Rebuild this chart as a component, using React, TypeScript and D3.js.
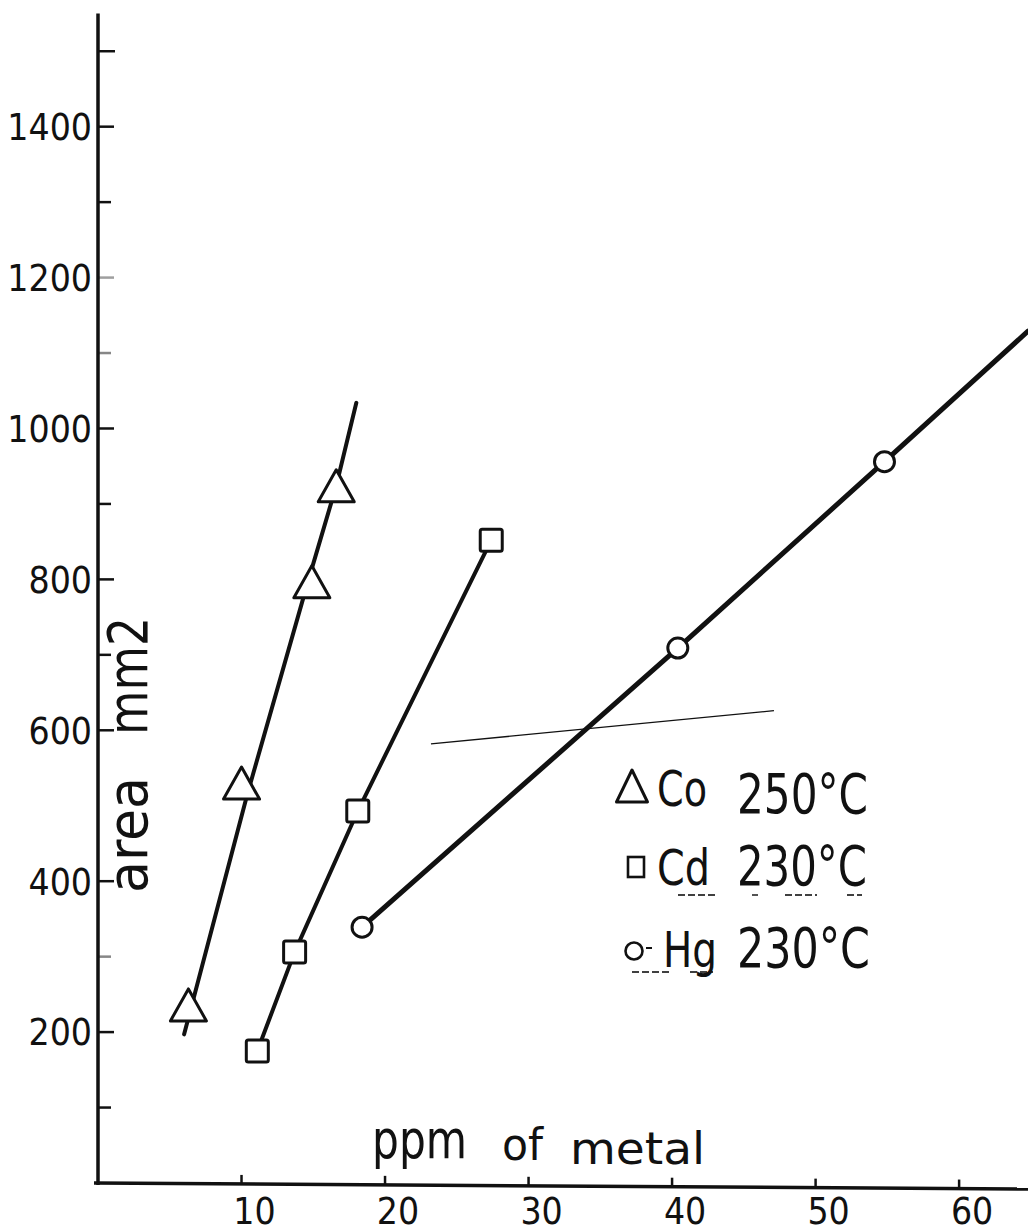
import React from "react";
import * as d3 from "d3";

// ---- data ----
const coX = [6.3, 10.0, 14.9, 16.6];
const coY = [236, 530, 797, 924];
const coLineX = [6.0, 10.4, 14.6, 16.6, 18.0];
const coLineY = [197, 515, 795, 924, 1034];

const cdX = [11.1, 13.7, 18.1, 27.4];
const cdY = [175, 306, 493, 852];

const hgX = [18.4, 40.4, 54.8];
const hgY = [339, 709, 956];
const hgLineX = [18.4, 40.4, 54.8, 64.8];
const hgLineY = [339, 709, 956, 1129];

const strayX = [23.2, 47.1];
const strayY = [582, 626];

const xTicks = [10, 20, 30, 40, 50, 60];
const yLabelTicks = [200, 400, 600, 800, 1000, 1200, 1400];
const yMinorTicks = [100, 300, 700, 900, 1100, 1300, 1500];

const legendNames = ["Co", "Cd", "Hg"];
const legendTemps = ["250°C", "230°C", "230°C"];
const legendSymbols = ["triangle", "square", "circle"];

const xAxisTitle = ["ppm", "of", "metal"];
const yAxisTitle = ["area", "mm2"];

const FONT = "'DejaVu Sans Condensed', 'DejaVu Sans', sans-serif";
const INK = "#111";

export default function App() {
  const W = 1028;
  const H = 1232;
  const x = d3.scaleLinear().domain([0, 64.8]).range([98, 1028]);
  const y = d3.scaleLinear().domain([0, 1550]).range([1183, 13.5]);

  const line = d3
    .line<[number, number]>()
    .x((d) => x(d[0]))
    .y((d) => y(d[1]));

  const coLine = line(coLineX.map((v, i) => [v, coLineY[i]]) as [number, number][]);
  const cdLine = line(cdX.map((v, i) => [v, cdY[i]]) as [number, number][]);
  const hgLine = line(hgLineX.map((v, i) => [v, hgLineY[i]]) as [number, number][]);
  const stray = line(strayX.map((v, i) => [v, strayY[i]]) as [number, number][]);

  const tri = (cx: number, cy: number, w: number, h: number) =>
    `M${cx},${cy - h / 2}L${cx + w / 2},${cy + h / 2}L${cx - w / 2},${cy + h / 2}Z`;

  const x0 = x(0);
  const y0 = y(0);

  // legend layout
  const legX = 632;
  const legRows = [806, 885, 967];
  const legTempLens = [131, 130, 133];
  const legNameLens = [50, 53, 54];
  const legNameX = [657, 657, 663];

  return (
    <svg
      width={W}
      height={H}
      viewBox={`0 0 ${W} ${H}`}
      style={{ position: "absolute", left: 0, top: 0, background: "#fff", display: "block" }}
    >
      <rect x={0} y={0} width={W} height={H} fill="#fff" />

      {/* axes */}
      <line x1={x0} y1={y0 + 2} x2={x0} y2={y(1550)} stroke={INK} strokeWidth={3.5} />
      <line x1={x0 - 4} y1={y0} x2={W} y2={y0 + 6} stroke={INK} strokeWidth={3.5} />

      {/* y ticks */}
      {yLabelTicks.map((t) => (
        <g key={"yl" + t}>
          <line x1={x0} x2={x0 + 16} y1={y(t)} y2={y(t)} stroke={INK} strokeWidth={2.5} opacity={t === 1200 ? 0.4 : 1} />
          <text
            x={92}
            y={y(t)}
            dy="0.36em"
            textAnchor="end"
            fontFamily={FONT}
            fontSize={37}
            fill={INK}
          >
            {t}
          </text>
        </g>
      ))}
      {yMinorTicks.map((t) => (
        <line
          key={"ym" + t}
          x1={x0}
          x2={x0 + (t === 1500 ? 17 : 13)}
          y1={y(t)}
          y2={y(t)}
          stroke={INK}
          strokeWidth={2.5}
          opacity={t === 1100 || t === 300 ? 0.5 : 1}
        />
      ))}

      {/* x ticks */}
      {xTicks.map((t) => {
        const ty = y0 + (x(t) - x0) * (6 / (W - x0));
        return (
          <g key={"xt" + t}>
            <line x1={x(t)} x2={x(t)} y1={ty} y2={ty - 9} stroke={INK} strokeWidth={2.5} />
            <text
              x={x(t) + 13}
              y={1224}
              textAnchor="middle"
              fontFamily={FONT}
              fontSize={37}
              fill={INK}
            >
              {t}
            </text>
          </g>
        );
      })}

      {/* axis titles */}
      <text x={372} y={1158} fontFamily={FONT} fontSize={54} fill={INK} textLength={95} lengthAdjust="spacingAndGlyphs">
        {xAxisTitle[0]}
      </text>
      <text x={502} y={1160} fontFamily={FONT} fontSize={44} fill={INK} textLength={41} lengthAdjust="spacingAndGlyphs">
        {xAxisTitle[1]}
      </text>
      <text x={570} y={1164} fontFamily={FONT} fontSize={44} fill={INK} textLength={135} lengthAdjust="spacingAndGlyphs">
        {xAxisTitle[2]}
      </text>

      <text
        transform="translate(147,893) rotate(-90)"
        fontFamily={FONT}
        fontSize={56}
        fill={INK}
        textLength={116}
        lengthAdjust="spacingAndGlyphs"
      >
        {yAxisTitle[0]}
      </text>
      <text
        transform="translate(147,735) rotate(-90)"
        fontFamily={FONT}
        fontSize={56}
        fill={INK}
        textLength={118}
        lengthAdjust="spacingAndGlyphs"
      >
        {yAxisTitle[1]}
      </text>

      {/* stray thin line */}
      <path d={stray || ""} fill="none" stroke={INK} strokeWidth={1.4} />

      {/* series lines */}
      <path d={coLine || ""} fill="none" stroke={INK} strokeWidth={4} strokeLinecap="round" strokeLinejoin="round" />
      <path d={cdLine || ""} fill="none" stroke={INK} strokeWidth={4} strokeLinecap="round" strokeLinejoin="round" />
      <path d={hgLine || ""} fill="none" stroke={INK} strokeWidth={5} strokeLinecap="round" strokeLinejoin="round" />

      {/* markers */}
      {coX.map((v, i) => (
        <path key={"co" + i} d={tri(x(v), y(coY[i]), 36, 32)} fill="#fff" stroke={INK} strokeWidth={3} strokeLinejoin="round" />
      ))}
      {cdX.map((v, i) => (
        <rect
          key={"cd" + i}
          x={x(v) - 11}
          y={y(cdY[i]) - 11}
          width={22}
          height={22}
          rx={2}
          fill="#fff"
          stroke={INK}
          strokeWidth={3}
        />
      ))}
      {hgX.map((v, i) => (
        <circle key={"hg" + i} cx={x(v)} cy={y(hgY[i])} r={10} fill="#fff" stroke={INK} strokeWidth={3} />
      ))}

      {/* legend */}
      {legendNames.map((name, i) => {
        const by = legRows[i];
        const sym = legendSymbols[i];
        return (
          <g key={"leg" + i}>
            {sym === "triangle" && (
              <path d={tri(legX, by - 20, 31, 32)} fill="#fff" stroke={INK} strokeWidth={3} strokeLinejoin="round" />
            )}
            {sym === "square" && (
              <rect x={legX - 4} y={by - 28} width={16} height={20} fill="#fff" stroke={INK} strokeWidth={2.6} />
            )}
            {sym === "circle" && (
              <g>
                <circle cx={legX + 2} cy={by - 16} r={8.5} fill="#fff" stroke={INK} strokeWidth={2.6} />
                <line x1={legX + 14} x2={legX + 20} y1={by - 19} y2={by - 19} stroke={INK} strokeWidth={2} />
              </g>
            )}
            <text
              x={legNameX[i]}
              y={by}
              fontFamily={FONT}
              fontSize={50}
              fill={INK}
              textLength={legNameLens[i]}
              lengthAdjust="spacingAndGlyphs"
            >
              {name}
            </text>
            <text
              x={737}
              y={i === 0 ? by + 7 : by}
              fontFamily={FONT}
              fontSize={55}
              fill={INK}
              textLength={legTempLens[i]}
              lengthAdjust="spacingAndGlyphs"
            >
              {legendTemps[i]}
            </text>
          </g>
        );
      })}

      {/* pencil underlines in legend */}
      <g stroke={INK} strokeWidth={1.8} strokeDasharray="7 3" opacity={0.8}>
        <line x1={678} x2={718} y1={895} y2={895} />
        <line x1={752} x2={758} y1={895} y2={895} />
        <line x1={785} x2={817} y1={895} y2={895} />
        <line x1={847} x2={862} y1={895} y2={895} />
        <line x1={632} x2={670} y1={972} y2={972} />
        <line x1={690} x2={713} y1={972} y2={972} />
      </g>
    </svg>
  );
}
